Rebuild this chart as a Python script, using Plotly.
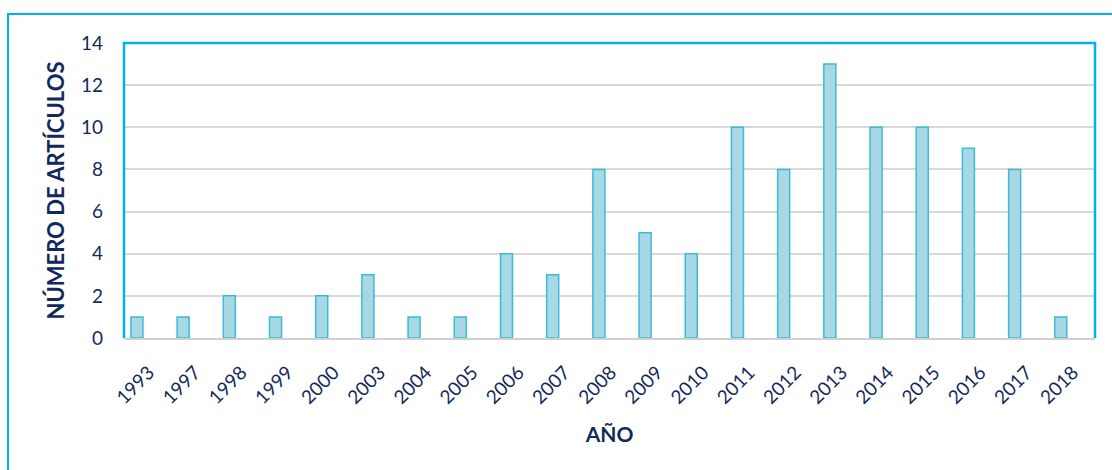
import plotly.graph_objects as go

years = ["1993", "1997", "1998", "1999", "2000", "2003", "2004", "2005", "2006", "2007",
         "2008", "2009", "2010", "2011", "2012", "2013", "2014", "2015", "2016", "2017", "2018"]
articles = [1, 1, 2, 1, 2, 3, 1, 1, 4, 3, 8, 5, 4, 10, 8, 13, 10, 10, 9, 8, 1]
y_ticks = [0, 2, 4, 6, 8, 10, 12, 14]

NAVY = "#13295B"
CYAN = "#00B0F0"
FONT = "Lato"

fig = go.Figure(go.Bar(
    x=years, y=articles,
    marker=dict(color="#A8D8E6", line=dict(color="#3CBCD4", width=1.5)),
))

L, R, T, B = 124, 17, 43, 132
W, H = 1112, 470
pw, ph = W - L - R, H - T - B

def px(x):
    return (x - L) / pw

def py(y):
    return (H - B - y) / ph

fig.update_layout(
    width=W, height=H,
    margin=dict(l=L, r=R, t=T, b=B, pad=0),
    paper_bgcolor="white", plot_bgcolor="white",
    bargap=0.74, showlegend=False,
    font=dict(family=FONT, color=NAVY, size=19),
    xaxis=dict(
        type="category", tickangle=-45, showgrid=False,
        range=[-0.28, 20.74],
        showline=True, linecolor="#D0D0D0", linewidth=2,
        ticks="", tickfont=dict(size=19, color=NAVY),
        ticklabelstandoff=14, ticklabelshift=12,
        title=dict(text="<b>AÑO</b>", font=dict(size=21, color=NAVY), standoff=20),
    ),
    yaxis=dict(
        range=[0, 14], tickvals=y_ticks, showgrid=True, gridcolor="#D9D9D9", gridwidth=1.5,
        zeroline=False, showline=False, ticks="", ticklen=0,
        tickfont=dict(size=19, color=NAVY), ticklabelstandoff=20,
        title=dict(text="<b>NÚMERO DE ARTÍCULOS</b>", font=dict(size=22, color=NAVY), standoff=10),
    ),
    shapes=[
        dict(type="rect", xref="paper", yref="paper",
             x0=px(8), x1=px(1130), y0=py(490), y1=py(14),
             line=dict(color=CYAN, width=2), layer="below"),
        dict(type="path", xref="paper", yref="paper",
             path="M 0 0 L 0 1 L 1 1 L 1 0",
             line=dict(color=CYAN, width=2.5), layer="above"),
    ],
)

fig.write_html("out.html")
